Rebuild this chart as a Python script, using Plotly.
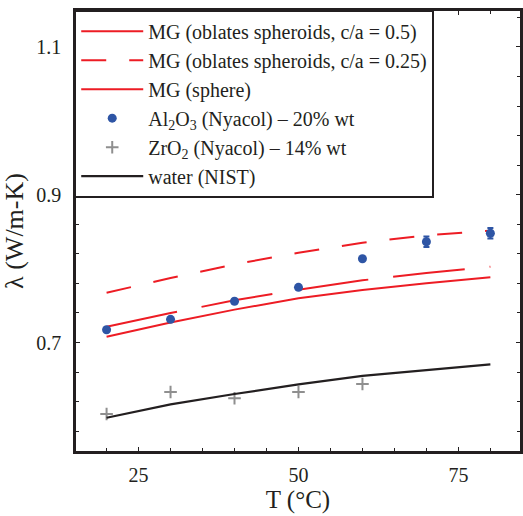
import plotly.graph_objects as go

# ---- data ----
T = [20, 30, 40, 50, 60, 70, 80]
mg_oblate_05 = [0.7214, 0.7399, 0.7571, 0.7714, 0.7842, 0.7940, 0.8026]
mg_oblate_025 = [0.7674, 0.7873, 0.8058, 0.8215, 0.8350, 0.8451, 0.8513]
mg_sphere = [0.7078, 0.7271, 0.7445, 0.7598, 0.7710, 0.7802, 0.7882]
al2o3 = [0.7173, 0.7314, 0.7558, 0.7747, 0.8134, 0.8364, 0.8478]
al2o3_err = [0, 0, 0, 0, 0, 0.007, 0.007]
T_zr = [20, 30, 40, 50, 60]
zro2 = [0.6032, 0.6330, 0.6245, 0.6330, 0.6438]
water = [0.5982, 0.6164, 0.6303, 0.6434, 0.6549, 0.6628, 0.6705]

names = [
    "MG (oblates spheroids, c/a = 0.5)",
    "MG (oblates spheroids, c/a = 0.25)",
    "MG (sphere)",
    "Al<sub>2</sub>O<sub>3</sub> (Nyacol) – 20% wt",
    "ZrO<sub>2</sub> (Nyacol) – 14% wt",
    "water (NIST)",
]

RED = "#ed1c24"
BLUE = "#2e55a5"
GREY = "#8f8f8f"
BLACK = "#231f20"
FONT = "Liberation Serif"

fig = go.Figure()
fig.add_trace(go.Scatter(x=T, y=mg_oblate_05, mode="lines", name=names[0],
                         line=dict(color=RED, width=2, dash="72px,25px")))
fig.add_trace(go.Scatter(x=T, y=mg_oblate_025, mode="lines", name=names[1],
                         line=dict(color=RED, width=2, dash="25px,23px")))
fig.add_trace(go.Scatter(x=T, y=mg_sphere, mode="lines", name=names[2],
                         line=dict(color=RED, width=2)))
fig.add_trace(go.Scatter(x=T, y=al2o3, mode="markers", name=names[3],
                         marker=dict(color=BLUE, size=9, symbol="circle"),
                         error_y=dict(type="data", array=al2o3_err, visible=True,
                                      color=BLUE, thickness=2, width=3)))
fig.add_trace(go.Scatter(x=T_zr, y=zro2, mode="markers", name=names[4],
                         marker=dict(color=GREY, size=9, symbol="cross-thin",
                                     line=dict(color=GREY, width=2))))
fig.add_trace(go.Scatter(x=T, y=water, mode="lines", name=names[5],
                         line=dict(color=BLACK, width=2.2)))

axis_common = dict(
    showline=True, linecolor=BLACK, linewidth=2.5, mirror="allticks",
    ticks="inside", ticklen=4, tickwidth=1.2, tickcolor=BLACK,
    showgrid=False, zeroline=False,
    tickfont=dict(family=FONT, size=20, color="#231f20"),
)

fig.update_layout(
    width=523, height=516,
    margin=dict(l=76, r=0, t=11, b=65),
    paper_bgcolor="white", plot_bgcolor="white",
    font=dict(family=FONT, color="#231f20"),
    xaxis=dict(range=[15.22, 84.63], tickvals=[25, 50, 75],
               minor=dict(dtick=5, tick0=0, ticks="inside", ticklen=3, tickcolor=BLACK),
               title=dict(text="T (°C)", font=dict(family=FONT, size=25), standoff=0),
               ticklabelstandoff=4, **axis_common),
    yaxis=dict(range=[0.5532, 1.1486], tick0=0.1, dtick=0.2, tickformat=".1f",
               minor=dict(dtick=0.04, tick0=0.7, ticks="inside", ticklen=3, tickcolor=BLACK),
               title=dict(text="λ (W/m-K)", font=dict(family=FONT, size=26), standoff=6),
               ticklabelstandoff=8, **axis_common),
    legend=dict(x=-0.004, y=1.003, xanchor="left", yanchor="top",
                bgcolor="white", bordercolor=BLACK, borderwidth=2,
                font=dict(family=FONT, size=20, color="#231f20"),
                itemwidth=62, traceorder="normal"),
    showlegend=True,
)

fig.write_html("out.html")
